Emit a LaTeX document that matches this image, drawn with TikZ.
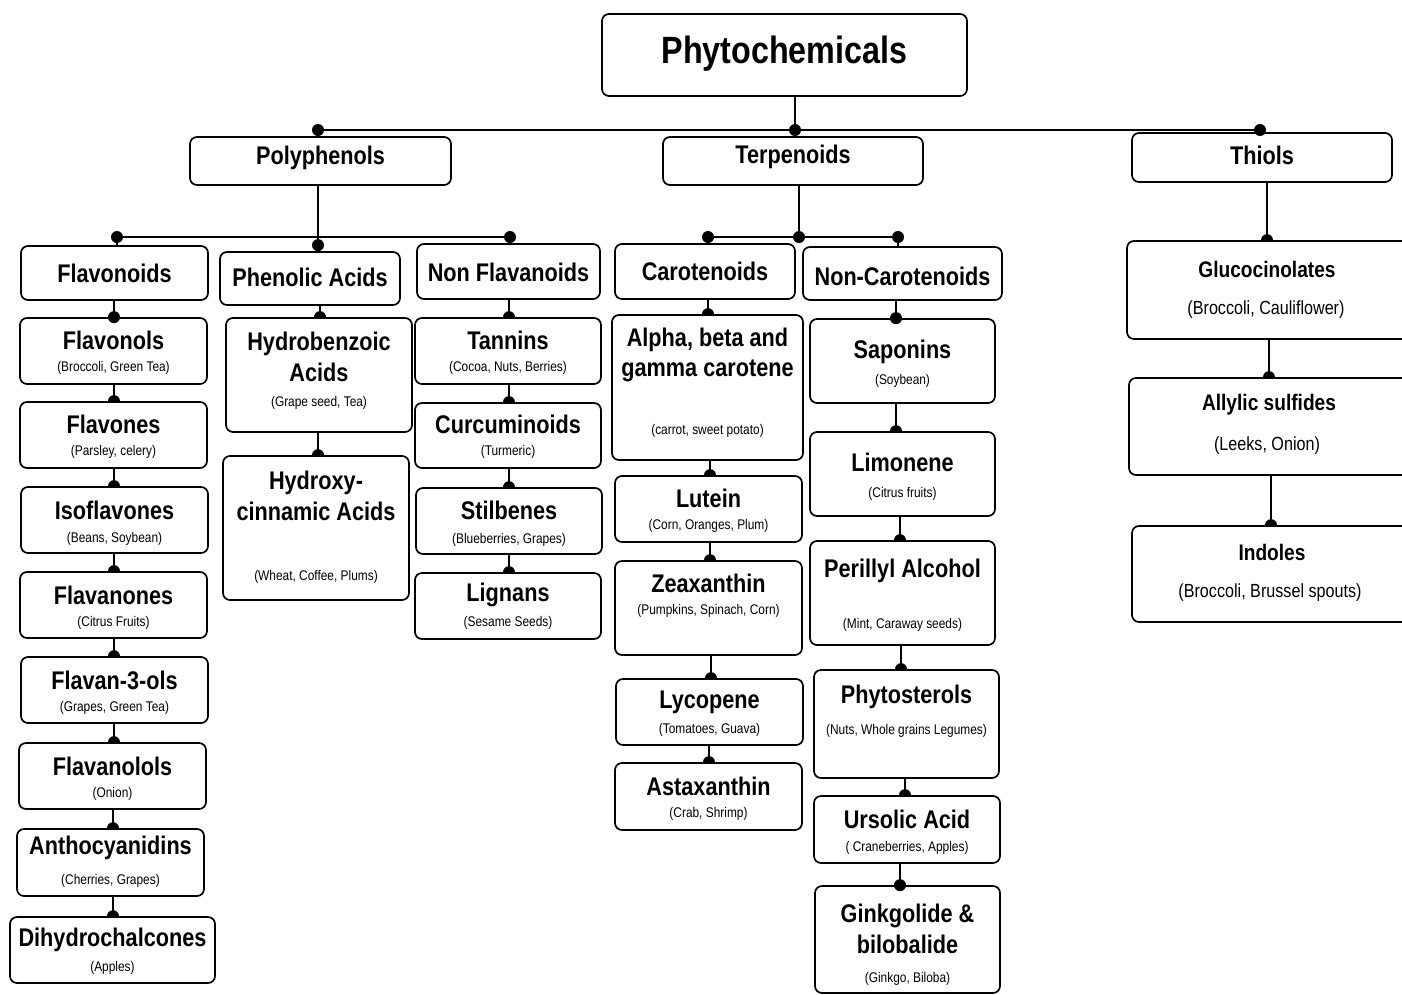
\documentclass[tikz,border=0pt]{standalone}
\usepackage{fontspec}
\setmainfont{Liberation Sans}[FakeStretch=0.85]
\pgfdeclarelayer{back}
\pgfdeclarelayer{bg}
\pgfsetlayers{back,bg,main}
\tikzset{
  box/.style={draw, line width=1.7pt, rounded corners=7pt, fill=white, inner sep=0pt},
  ttl/.style={font=\bfseries\fontsize{25.5}{30.5}\selectfont, inner sep=0pt, align=center},
  ttb/.style={font=\bfseries\fontsize{22.5}{27}\selectfont, inner sep=0pt, align=center},
  big/.style={font=\bfseries\fontsize{38}{42}\selectfont, inner sep=0pt},
  sub/.style={font=\fontsize{14}{16}\selectfont, inner sep=0pt},
  tsub/.style={font=\fontsize{19}{22}\selectfont, inner sep=0pt},
  conn/.style={line width=2.5pt},
}
\newcommand\bx[5]{\node[box, minimum width={#4-#2}, minimum height={#5-#3}] (#1) at ({(#2+#4)/2},{(#3+#5)/2}) {};}
\newcommand\tl[5]{\node[#2] (#1-#5) at (#1.center |- 0,#3) {#4};}
% connector with half dot (dot under the child box)
\newcommand\cnx[3]{\begin{pgfonlayer}{bg}\draw[conn] (#1.south -| #3,0) -- (#2.north -| #3,0);
  \fill (#2.north -| #3,0) circle (6pt);\end{pgfonlayer}}
% connector with full dot
\newcommand\cnf[4]{\begin{pgfonlayer}{bg}\draw[conn] (#1.south -| #3,0) -- (#2.north -| #3,0);\end{pgfonlayer}
  \fill (#2.north -| #3,0) ++(0,#4) circle (6pt);}
\begin{document}
\begin{tikzpicture}[x=1pt,y=-1pt]
\useasboundingbox (0,0) rectangle (1402,994);
\begin{pgfonlayer}{back}
\fill[white] (0,0) rectangle (1402,994);
\end{pgfonlayer}
\clip (0,0) rectangle (1402,994);

% ---------- boxes ----------
\bx{phyto}{602}{14}{967}{96}
\bx{poly}{190}{137}{451}{185}
\bx{terp}{663}{137}{923}{185}
\bx{thiols}{1132}{133}{1392}{182}
\bx{flavonoids}{21}{246}{208}{300}
\bx{phenolic}{220}{252}{400}{305}
\bx{nonflav}{417}{244}{600}{299}
\bx{carot}{615}{244}{795}{299}
\bx{noncarot}{803}{247}{1002}{300}
\bx{flavonols}{20}{318}{207}{384}
\bx{flavones}{20}{402}{207}{468}
\bx{isoflav}{21}{487}{208}{553}
\bx{flavanones}{20}{572}{207}{638}
\bx{flavanthree}{21}{657}{208}{723}
\bx{flavanolols}{19}{743}{206}{809}
\bx{antho}{17}{829}{204}{896}
\bx{dihydro}{10}{917}{215}{983}
\bx{hydrob}{226}{318}{412}{432}
\bx{hydroxy}{223}{456}{409}{600}
\bx{tannins}{415}{318}{601}{384}
\bx{curcum}{415}{403}{601}{468}
\bx{stilb}{416}{488}{602}{554}
\bx{lignans}{415}{573}{601}{639}
\bx{alpha}{612}{315}{803}{460}
\bx{lutein}{615}{476}{802}{542}
\bx{zeax}{615}{561}{802}{655}
\bx{lyco}{616}{679}{803}{745}
\bx{asta}{615}{763}{802}{830}
\bx{saponins}{810}{319}{995}{403}
\bx{limon}{810}{432}{995}{516}
\bx{perillyl}{810}{541}{995}{645}
\bx{phytost}{814}{670}{999}{778}
\bx{ursolic}{814}{796}{1000}{863}
\bx{ginkgo}{815}{886}{1000}{993}
\bx{gluco}{1127}{241}{1412}{339}
\bx{allylic}{1129}{378}{1412}{475}
\bx{indoles}{1132}{526}{1412}{622}

% ---------- texts ----------
\tl{phyto}{big}{54}{Phytochemicals}{t}
\tl{poly}{ttl}{158}{Polyphenols}{t}
\tl{terp}{ttl}{157}{Terpenoids}{t}
\tl{thiols}{ttl}{155}{Thiols}{t}
\tl{flavonoids}{ttl}{273}{Flavonoids}{t}
\tl{phenolic}{ttl}{277}{Phenolic Acids}{t}
\tl{nonflav}{ttl}{272}{Non Flavanoids}{t}
\tl{carot}{ttl}{271}{Carotenoids}{t}
\tl{noncarot}{ttl}{276}{Non-Carotenoids}{t}

\tl{flavonols}{ttl}{340}{Flavonols}{t}
\tl{flavonols}{sub}{368}{(Broccoli, Green Tea)}{s}
\tl{flavones}{ttl}{424}{Flavones}{t}
\tl{flavones}{sub}{452}{(Parsley, celery)}{s}
\tl{isoflav}{ttl}{510}{Isoflavones}{t}
\tl{isoflav}{sub}{539}{(Beans, Soybean)}{s}
\tl{flavanones}{ttl}{595}{Flavanones}{t}
\tl{flavanones}{sub}{623}{(Citrus Fruits)}{s}
\tl{flavanthree}{ttl}{680}{Flavan-3-ols}{t}
\tl{flavanthree}{sub}{708}{(Grapes, Green Tea)}{s}
\tl{flavanolols}{ttl}{766}{Flavanolols}{t}
\tl{flavanolols}{sub}{794}{(Onion)}{s}
\tl{antho}{ttl}{848}{Anthocyanidins}{t}
\tl{antho}{sub}{881}{(Cherries, Grapes)}{s}
\tl{dihydro}{ttl}{940}{Dihydrochalcones}{t}
\tl{dihydro}{sub}{968}{(Apples)}{s}

\tl{hydrob}{ttl}{357}{Hydrobenzoic\\Acids}{t}
\tl{hydrob}{sub}{403}{(Grape seed, Tea)}{s}
\tl{hydroxy}{ttl}{496}{Hydroxy-\\cinnamic Acids}{t}
\tl{hydroxy}{sub}{577}{(Wheat, Coffee, Plums)}{s}

\tl{tannins}{ttl}{340}{Tannins}{t}
\tl{tannins}{sub}{368}{(Cocoa, Nuts, Berries)}{s}
\tl{curcum}{ttl}{424}{Curcuminoids}{t}
\tl{curcum}{sub}{452}{(Turmeric)}{s}
\tl{stilb}{ttl}{510}{Stilbenes}{t}
\tl{stilb}{sub}{540}{(Blueberries, Grapes)}{s}
\tl{lignans}{ttl}{595}{Lignans}{t}
\tl{lignans}{sub}{623}{(Sesame Seeds)}{s}

\tl{alpha}{ttl}{355}{Alpha, beta and\\gamma carotene}{t}
\tl{alpha}{sub}{431}{(carrot, sweet potato)}{s}
\tl{lutein}{ttl}{498}{Lutein}{t}
\tl{lutein}{sub}{526}{(Corn, Oranges, Plum)}{s}
\tl{zeax}{ttl}{583}{Zeaxanthin}{t}
\tl{zeax}{sub}{611}{(Pumpkins, Spinach, Corn)}{s}
\tl{lyco}{ttl}{702}{Lycopene}{t}
\tl{lyco}{sub}{730}{(Tomatoes, Guava)}{s}
\tl{asta}{ttl}{786}{Astaxanthin}{t}
\tl{asta}{sub}{814}{(Crab, Shrimp)}{s}

\tl{saponins}{ttl}{352}{Saponins}{t}
\tl{saponins}{sub}{381}{(Soybean)}{s}
\tl{limon}{ttl}{462}{Limonene}{t}
\tl{limon}{sub}{494}{(Citrus fruits)}{s}
\tl{perillyl}{ttl}{571}{Perillyl Alcohol}{t}
\tl{perillyl}{sub}{625}{(Mint, Caraway seeds)}{s}
\tl{phytost}{ttl}{697}{Phytosterols}{t}
\tl{phytost}{sub}{731}{(Nuts, Whole grains Legumes)}{s}
\tl{ursolic}{ttl}{819}{Ursolic Acid}{t}
\tl{ursolic}{sub}{848}{( Craneberries, Apples)}{s}
\tl{ginkgo}{ttl}{929}{Ginkgolide \&\\bilobalide}{t}
\tl{ginkgo}{sub}{979}{(Ginkgo, Biloba)}{s}

\node[ttb] (gluco-t) at (1267,269) {Glucocinolates};
\node[tsub] (gluco-s) at (1266,310) {(Broccoli, Cauliflower)};
\node[ttb] (allylic-t) at (1269,405) {Allylic sulfides};
\node[tsub] (allylic-s) at (1267,446) {(Leeks, Onion)};
\node[ttb] (indoles-t) at (1272,552) {Indoles};
\node[tsub] (indoles-s) at (1270,593) {(Broccoli, Brussel spouts)};

% ---------- top bar ----------
\coordinate (bl) at (318,130);
\coordinate (bc) at (795,130);
\coordinate (br) at (1260,130);
\begin{pgfonlayer}{bg}
\draw[conn] (phyto.south -| bc) -- (bc);
\draw[conn] (bl) -- (br);
\draw[conn] (bl) -- (poly.north -| bl);
\draw[conn] (bc) -- (terp.north -| bc);
\draw[conn] (br) -- (thiols.north -| br);
\end{pgfonlayer}
\fill (bl) circle (6pt);
\fill (bc) circle (6pt);
\fill (br) circle (6pt);

% ---------- polyphenols bar ----------
\coordinate (pl) at (117,237);
\coordinate (pc) at (318,237);
\coordinate (pr) at (510,237);
\begin{pgfonlayer}{bg}
\draw[conn] (poly.south -| pc) -- (pc);
\draw[conn] (pl) -- (pr);
\draw[conn] (pl) -- (flavonoids.north -| pl);
\draw[conn] (pr) -- (nonflav.north -| pr);
\draw[conn] (pc) -- (phenolic.north -| pc);
\end{pgfonlayer}
\fill (pl) circle (6pt);
\fill (pr) circle (6pt);
\fill (phenolic.north -| pc) ++(0,-6) circle (6pt);

% ---------- terpenoids bar ----------
\coordinate (tl) at (708,237);
\coordinate (tc) at (799,237);
\coordinate (tr) at (898,237);
\begin{pgfonlayer}{bg}
\draw[conn] (terp.south -| tc) -- (tc);
\draw[conn] (tl) -- (tr);
\draw[conn] (tl) -- (carot.north -| tl);
\draw[conn] (tr) -- (noncarot.north -| tr);
\end{pgfonlayer}
\fill (tl) circle (6pt);
\fill (tc) circle (6pt);
\fill (tr) circle (6pt);

% ---------- flavonoids column ----------
\cnf{flavonoids}{flavonols}{114}{0}
\cnx{flavonols}{flavones}{114}
\cnx{flavones}{isoflav}{114}
\cnx{isoflav}{flavanones}{114}
\cnx{flavanones}{flavanthree}{114}
\cnx{flavanthree}{flavanolols}{114}
\cnx{flavanolols}{antho}{113}
\cnx{antho}{dihydro}{113}
% ---------- phenolic acids ----------
\cnx{phenolic}{hydrob}{320}
\cnx{hydrob}{hydroxy}{318}
% ---------- non flavanoids ----------
\cnx{nonflav}{tannins}{509}
\cnx{tannins}{curcum}{509}
\cnx{curcum}{stilb}{509}
\cnx{stilb}{lignans}{509}
% ---------- carotenoids ----------
\cnx{carot}{alpha}{708}
\cnx{alpha}{lutein}{710}
\cnx{lutein}{zeax}{710}
\cnx{zeax}{lyco}{711}
\cnx{lyco}{asta}{709}
% ---------- non-carotenoids ----------
\cnf{noncarot}{saponins}{896}{0}
\cnx{saponins}{limon}{896}
\cnx{limon}{perillyl}{900}
\cnx{perillyl}{phytost}{901}
\cnx{phytost}{ursolic}{905}
\cnf{ursolic}{ginkgo}{900}{0}
% ---------- thiols ----------
\cnx{thiols}{gluco}{1267}
\cnx{gluco}{allylic}{1269}
\cnx{allylic}{indoles}{1271}
\end{tikzpicture}
\end{document}
